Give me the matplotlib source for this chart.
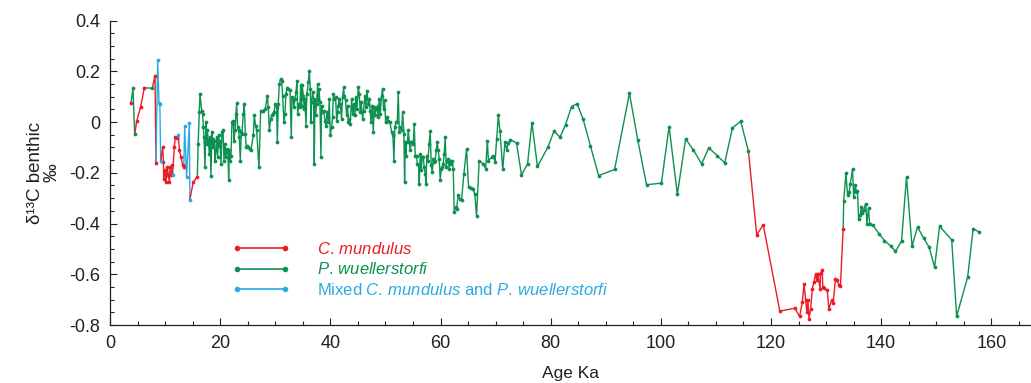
import numpy as np
import matplotlib
matplotlib.use('Agg')
import matplotlib.pyplot as plt
from matplotlib.ticker import MultipleLocator, FuncFormatter
from matplotlib.lines import Line2D

plt.rcParams['font.family'] = ['Liberation Sans', 'DejaVu Sans']
plt.rcParams['axes.unicode_minus'] = False
plt.rcParams['mathtext.fontset'] = 'custom'
plt.rcParams['mathtext.rm'] = 'Liberation Sans'
plt.rcParams['mathtext.it'] = 'Liberation Sans:italic'

RED = '#ed1c24'
GREEN = '#0c9150'
BLUE = '#29abe2'
INK = '#231f20'

# 3.8 - 16 ka, taxa alternate (C = C. mundulus, P = P. wuellerstorfi, M = mixed)
early_age = [3.8, 4.17, 4.48, 4.84, 5.57, 6.23, 7.68, 8.17, 8.35,
             8.65, 8.89, 9.05, 9.2,
             9.56, 9.7, 9.75, 10.0, 10.2, 10.4, 10.6, 10.8, 10.9, 11.1, 11.25,
             11.36, 11.67, 11.86, 12.1, 12.4, 12.6, 12.9, 13.2, 13.4,
             13.55, 13.9, 14.4, 14.5, 15.1, 15.85]
early_d13c = [0.074, 0.133, -0.049, 0.003, 0.061, 0.135, 0.133, 0.183, -0.16,
              0.245, 0.076, 0.07, -0.155,
              -0.099, -0.158, -0.224, -0.191, -0.237, -0.178, -0.21, -0.237, -0.178, -0.21, -0.171,
              -0.21, -0.099, -0.06, -0.062, -0.053, -0.112, -0.139, -0.171, -0.178,
              -0.015, -0.217, -0.005, -0.306, -0.237, -0.215]
early_taxon = "CPPCCCPCC" "MMMM" "CCCCCCCCCCC" "MCCCMCCCC" "MMMMCC"

# 16 - 116 ka, P. wuellerstorfi
pw_age = [16.0, 16.2, 16.33, 16.64, 16.82, 16.94, 17.06, 17.24, 17.42, 17.54,
          17.67, 17.85, 18.03, 18.15, 18.33, 18.51, 18.64, 18.76, 18.94, 19.06,
          19.24, 19.36, 19.54, 19.72, 19.84, 19.97, 20.15, 20.33, 20.51, 20.69,
          20.87, 21.05, 21.23, 21.41, 21.54, 21.66, 21.84, 21.96, 22.14, 22.26,
          22.38, 22.50, 22.69, 22.87, 22.99, 23.17, 23.35, 23.47, 23.65, 23.83,
          23.95, 24.19, 24.38, 24.56, 24.74, 24.92, 25.10, 25.40, 25.59, 26.01,
          26.19, 26.43, 26.62, 27.04, 27.35, 27.83, 28.19, 28.56, 28.74, 28.92,
          29.16, 29.34, 29.52, 29.76, 30.01, 30.25, 30.37, 30.55, 30.73, 30.97,
          31.15, 31.34, 31.58, 31.76, 31.94, 32.18, 32.36, 32.67, 32.91, 33.03,
          33.27, 33.39, 33.57, 33.76, 33.94, 34.06, 34.30, 34.48,
          34.60, 34.66, 34.78, 34.91, 35.09, 35.27, 35.39, 35.57, 35.75, 36.00,
          36.18, 36.36, 36.48, 36.60, 36.78, 36.96, 37.08, 37.20, 37.33, 37.51,
          37.69, 37.81, 37.93, 38.11, 38.29, 38.41, 38.54, 38.78, 39.02, 39.20,
          39.38, 39.63, 39.81, 39.99, 40.23, 40.41, 40.53, 40.71, 40.96, 41.14,
          41.32, 41.44, 41.62, 41.80, 42.04, 42.22, 42.41, 42.53, 42.77, 42.95,
          43.13, 43.25, 43.43, 43.61, 43.86, 44.04, 44.22, 44.46, 44.64, 44.83,
          45.07, 45.25, 45.43, 45.61, 45.85, 46.03, 46.28, 46.46, 46.64, 46.88,
          47.06, 47.24, 47.37, 47.61, 47.79, 47.97, 48.15, 48.33, 48.57, 48.70,
          48.88, 49.06, 49.30, 49.48, 49.66, 49.85, 50.03, 50.21, 50.51, 50.82,
          51.12, 51.36, 51.54, 51.72,
          51.91, 52.15, 52.33, 52.51, 52.70, 52.94, 53.12, 53.36, 53.48, 53.60,
          53.72, 53.84, 54.02, 54.14, 54.33, 54.51, 54.69, 54.87, 55.05, 55.23,
          55.41, 55.65, 55.78, 56.02, 56.14, 56.32, 56.50, 56.68, 56.87, 57.05,
          57.23, 57.35, 57.53, 57.71, 57.95, 58.13, 58.32, 58.50, 58.68, 58.86,
          59.04, 59.22, 59.40, 59.58, 59.77, 59.95, 60.13, 60.31, 60.49, 60.67,
          60.85, 61.04, 61.22, 61.40, 61.58, 61.76, 61.94, 62.12, 62.31, 62.49,
          62.73, 62.91, 63.21, 63.52, 63.82, 64.24, 64.73, 65.09, 65.45, 65.81,
          66.24, 66.54, 67.02, 67.76, 68.2, 68.5, 68.7, 69.27, 69.6, 69.9,
          70.2, 70.5, 70.8, 71.3, 71.7, 72.0, 72.3, 72.7, 73.8, 74.7,
          75.8, 76.6, 77.6, 79.5, 80.6, 81.7, 82.7, 83.8, 84.8, 85.9,
          87.2, 88.7, 91.6, 94.3, 95.8, 97.4, 100.1, 101.5, 103.0, 104.5,
          105.9, 107.4, 108.7, 110.2, 111.6, 113.0, 114.5, 115.9]
pw_d13c = [-0.086, 0.039, 0.111, 0.045, 0.032, -0.020, -0.060, -0.178, -0.001, -0.086,
           -0.033, -0.073, -0.125, -0.060, -0.211, -0.040, -0.099, -0.066, -0.073, -0.152,
           -0.112, -0.060, -0.139, -0.053, -0.093, -0.073, -0.165, -0.040, -0.033, -0.152,
           -0.086, -0.139, -0.106, -0.119, -0.230, -0.112, -0.152, -0.132, -0.001, -0.007,
           0.006, -0.073, -0.033, 0.032, 0.074, -0.020, -0.033, -0.060, -0.152, -0.040,
           -0.046, 0.032, 0.072, -0.046, -0.099, -0.093, -0.099, -0.106, -0.112, -0.053,
           0.026, -0.014, -0.033, -0.178, 0.045, 0.045, 0.052, 0.104, 0.058, -0.033,
           0.013, 0.026, 0.032, 0.039, 0.072, 0.058, -0.079, 0.072, 0.150, 0.170,
           0.163, 0.104, -0.001, 0.032, 0.111, 0.135, 0.131, 0.127, -0.060, 0.098,
           0.085, 0.058, 0.091, 0.117, 0.163, 0.032, 0.072, 0.058,
           0.144, 0.091, 0.065, 0.144, 0.104, 0.052, 0.091, -0.014, 0.111, 0.157,
           0.203, 0.131, 0.000, 0.078, 0.117, 0.091, -0.165, 0.078, 0.026, 0.072,
           0.150, 0.085, 0.131, 0.078, -0.139, 0.065, 0.039, 0.045, 0.006, -0.014,
           0.039, 0.000, 0.091, -0.053, -0.020, 0.019, 0.111, 0.091, 0.098, 0.006,
           0.039, 0.065, 0.091, 0.072, 0.013, 0.098, 0.137, 0.104, 0.085, 0.026,
           0.065, 0.000, 0.013, -0.007, 0.091, 0.032, 0.072, 0.026, 0.098, 0.052,
           0.137, 0.111, 0.039, 0.078, 0.013, 0.045, 0.104, 0.058, 0.124, 0.072,
           0.091, 0.045, 0.000, 0.065, -0.040, 0.058, 0.026, 0.052, 0.065, 0.019,
           0.091, 0.032, 0.104, 0.131, 0.052, 0.085, 0.000, 0.019, 0.006, 0.000,
           -0.040, -0.053, -0.154, -0.020,
           -0.001, -0.001, 0.117, -0.040, -0.020, -0.033, 0.039, -0.046, -0.237, -0.079,
           -0.132, -0.079, -0.073, -0.033, -0.079, -0.112, -0.079, -0.079, -0.086, -0.007,
           -0.132, -0.132, -0.165, -0.171, -0.243, -0.125, -0.191, -0.139, -0.139, -0.178,
           -0.204, -0.243, -0.132, -0.152, -0.086, -0.036, -0.171, -0.197, -0.145, -0.158,
           -0.152, -0.112, -0.079, -0.112, -0.145, -0.230, -0.184, -0.178, -0.165, -0.125,
           -0.060, -0.178, -0.152, -0.145, -0.184, -0.152, -0.165, -0.152, -0.184, -0.355,
           -0.335, -0.342, -0.289, -0.302, -0.309, -0.204, -0.106, -0.257, -0.259, -0.263,
           -0.283, -0.372, -0.154, -0.165, -0.184, -0.073, -0.152, -0.139, -0.132, -0.158,
           -0.066, 0.026, -0.036, -0.187, -0.077, -0.110, -0.083, -0.069, -0.083, -0.208,
           -0.165, -0.003, -0.175, -0.099, -0.036, -0.060, -0.010, 0.061, 0.072, 0.010,
           -0.093, -0.211, -0.187, 0.113, -0.070, -0.247, -0.241, -0.018, -0.285, -0.066,
           -0.110, -0.165, -0.102, -0.132, -0.161, -0.023, 0.003, -0.115]

# 117 - 133 ka, C. mundulus
cm_age = [117.4, 118.6, 121.6, 124.3, 125.2, 125.7, 126.0, 126.3, 126.5, 126.7,
          126.9, 127.2, 127.5, 127.8, 128.1, 128.3, 128.5, 128.9, 129.0, 129.3,
          129.4, 129.7, 130.2, 130.5, 131.0, 131.3, 131.7, 131.9, 132.4, 132.6, 133.1]
cm_d13c = [-0.444, -0.406, -0.745, -0.734, -0.766, -0.709, -0.637, -0.703, -0.749, -0.703,
           -0.775, -0.736, -0.657, -0.630, -0.598, -0.624, -0.598, -0.657, -0.595, -0.585,
           -0.650, -0.656, -0.661, -0.736, -0.703, -0.713, -0.617, -0.624, -0.644, -0.648, -0.420]

# 133 - 158 ka, P. wuellerstorfi
late_age = [133.2, 133.6, 133.9, 134.2, 134.4, 134.8, 135.0, 135.3, 135.5, 135.7,
            135.9, 136.2, 136.4, 136.6, 136.8, 137.2, 137.4, 137.7, 137.9, 138.5,
            139.6, 140.6, 141.7, 142.6, 143.7, 144.6, 145.6, 146.6, 147.7, 148.7,
            149.7, 150.6, 152.8, 153.7, 155.7, 156.7, 157.8]
late_d13c = [-0.310, -0.202, -0.289, -0.276, -0.243, -0.184, -0.296, -0.250, -0.276, -0.270,
             -0.384, -0.368, -0.333, -0.360, -0.346, -0.322, -0.401, -0.338, -0.401, -0.407,
             -0.440, -0.467, -0.488, -0.510, -0.469, -0.217, -0.489, -0.414, -0.457, -0.493,
             -0.572, -0.411, -0.464, -0.766, -0.611, -0.420, -0.434]

labels = {'C': r'$\mathit{C.\,mundulus}$',
          'P': r'$\mathit{P.\,wuellerstorfi}$',
          'M': r'Mixed $\mathit{C.\,mundulus}$ and $\mathit{P.\,wuellerstorfi}$'}
colors = {'C': RED, 'P': GREEN, 'M': BLUE}

age = np.array(early_age + pw_age + cm_age + late_age)
d13c = np.array(early_d13c + pw_d13c + cm_d13c + late_d13c)
taxon = np.array(list(early_taxon + 'P' * len(pw_age) + 'C' * len(cm_age) + 'P' * len(late_age)))
assert len(age) == len(d13c) == len(taxon)

fig = plt.figure(figsize=(10.31, 3.83), dpi=100)
ax = fig.add_axes([0.1067, 0.1514, 0.8933, 0.795])

# each run of one taxon is drawn from the last point of the previous run
start = 0
for i in range(1, len(taxon) + 1):
    if i == len(taxon) or taxon[i] != taxon[start]:
        j0 = max(start - 1, 0)
        ax.plot(age[j0:i], d13c[j0:i], color=colors[taxon[start]], lw=1.0,
                solid_joinstyle='round', zorder=2)
        start = i
for k, c in colors.items():
    m = taxon == k
    ax.plot(age[m], d13c[m], ls='none', marker='o', ms=2.7, mew=0,
            color=c, zorder=3)

handles = [Line2D([], [], color=colors[k], lw=1.2, marker='o', ms=4, mew=0)
           for k in ['C', 'P', 'M']]
leg = ax.legend(handles, [labels[k] for k in ['C', 'P', 'M']],
                loc='upper left', bbox_to_anchor=(0.1325, 0.275),
                frameon=False, fontsize=12, numpoints=2, handlelength=3.5,
                handletextpad=1.6, labelspacing=0.25, borderpad=0,
                borderaxespad=0, labelcolor='linecolor')

ax.set_xlim(0, 167.2)
ax.set_ylim(-0.8, 0.4)
ax.xaxis.set_major_locator(MultipleLocator(20))
ax.xaxis.set_minor_locator(MultipleLocator(5))
ax.yaxis.set_major_locator(MultipleLocator(0.2))
ax.yaxis.set_minor_locator(MultipleLocator(0.05))
ax.yaxis.set_major_formatter(FuncFormatter(lambda v, p: f'{round(v, 1) + 0.0:g}'))

for s in ['top', 'right']:
    ax.spines[s].set_visible(False)
for s in ['left', 'bottom']:
    ax.spines[s].set_color(INK)
    ax.spines[s].set_linewidth(0.9)

ax.tick_params(which='major', direction='in', length=5, width=0.8,
               color=INK, labelcolor=INK, labelsize=13, pad=7)
ax.tick_params(which='minor', direction='in', length=3, width=0.8, color=INK)

ax.set_xlabel('Age Ka', fontsize=12.5, color=INK, labelpad=10)
ax.set_ylabel('δ¹³C benthic\n‰', fontsize=13.5, color=INK, labelpad=6,
              linespacing=1.0)

fig.savefig('out.png', dpi=100)
